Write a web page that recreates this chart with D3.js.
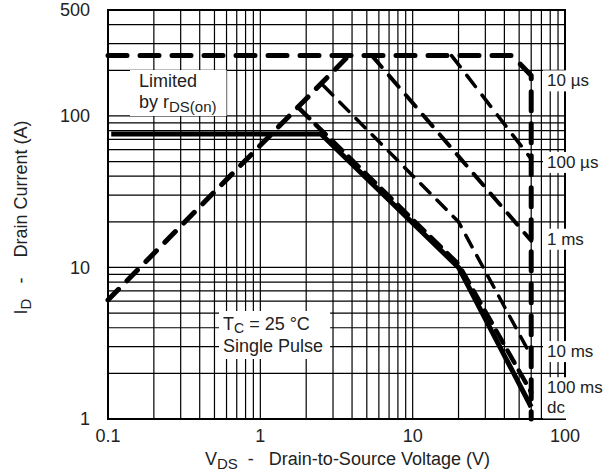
<!DOCTYPE html>
<html>
<head>
<meta charset="utf-8">
<script src="https://cdn.jsdelivr.net/npm/d3@7"></script>
<style>
  html, body { margin: 0; padding: 0; background: #fff; }
  svg { display: block; font-family: "Liberation Sans", Arial, Helvetica, sans-serif; }
  text { white-space: pre; fill: #222; }
</style>
</head>
<body>
<svg id="chart" width="614" height="472"></svg>
<script>
// Axis ticks
const xTickValues = [0.1, 1, 10, 100];
const xTickLabels = ["0.1", "1", "10", "100"];
const yTickValues = [1, 10, 100, 500];
const yTickLabels = ["1", "10", "100", "500"];

// Safe operating area boundaries as [V_DS (V), I_D (A)]
const pulseLimit  = [[0.1, 250], [45, 250], [60, 185], [60, 1]];      // 10 µs: I_DM ceiling, then V_DS max
const rdsOnLimit  = [[0.1, 6.1], [3.8, 250]];                          // limited by r_DS(on)
const curve100us  = [[18, 250], [60, 52]];
const curve1ms    = [[5.4, 250], [60, 15]];
const curve10ms   = [[2.6, 158], [20, 20], [60, 2.6]];
const curve100ms  = [[1.8, 112], [20, 10.5], [60, 1.5]];
const curveDC     = [[0.105, 76], [2.5, 76], [20, 10], [60, 1.2]];

const curveLabels = ["10 µs", "100 µs", "1 ms", "10 ms", "100 ms", "dc"];
const labelledCurves = [pulseLimit, curve100us, curve1ms, curve10ms, curve100ms, curveDC];

// ---- layout ----
const plot = { left: 108, right: 565, top: 10, bottom: 419 };
const labelNudge = [5, 3, -2, -5, -5, 0.5];

const svg = d3.select("#chart");

const x = d3.scaleLog().domain([0.1, 100]).range([plot.left, plot.right]);
const y = d3.scaleLog().domain([1, 500]).range([plot.bottom, plot.top]);

// ---- grid ----
const xGrid = [];
for (let dec = 0.1; dec < 100; dec *= 10) {
  for (let k = 2; k <= 9; k++) xGrid.push(+(dec * k).toPrecision(3));
  if (dec > 0.1) xGrid.push(+dec.toPrecision(3));
}
const yGrid = [];
for (let dec = 1; dec < 500; dec *= 10) {
  for (let k = 2; k <= 9; k++) {
    const v = dec * k;
    if (v < 500) yGrid.push(v);
  }
  if (dec > 1) yGrid.push(dec);
}

const grid = svg.append("g").attr("stroke", "#000").attr("stroke-width", 1.2);
grid.selectAll("line.v").data(xGrid).join("line")
  .attr("class", "v")
  .attr("x1", d => x(d)).attr("x2", d => x(d))
  .attr("y1", plot.top).attr("y2", plot.bottom);
grid.selectAll("line.h").data(yGrid).join("line")
  .attr("class", "h")
  .attr("x1", plot.left).attr("x2", plot.right)
  .attr("y1", d => y(d)).attr("y2", d => y(d));

svg.append("rect")
  .attr("x", plot.left).attr("y", plot.top)
  .attr("width", plot.right - plot.left).attr("height", plot.bottom - plot.top)
  .attr("fill", "none").attr("stroke", "#000").attr("stroke-width", 2);

// ---- tick labels ----
const tickFont = 18;
svg.append("g").selectAll("text").data(xTickValues).join("text")
  .attr("x", d => x(d)).attr("y", 442)
  .attr("text-anchor", "middle").attr("font-size", tickFont)
  .text((d, i) => xTickLabels[i]);
svg.append("g").selectAll("text").data(yTickValues).join("text")
  .attr("x", 90).attr("y", d => y(d))
  .attr("dy", "0.35em")
  .attr("text-anchor", "end").attr("font-size", tickFont)
  .text((d, i) => yTickLabels[i]);

// ---- axis titles ----
const xTitle = svg.append("text").attr("x", 205).attr("y", 465).attr("font-size", 18);
xTitle.append("tspan").text("V");
xTitle.append("tspan").attr("font-size", 15).attr("dy", 3.5).text("DS");
xTitle.append("tspan").attr("dy", -3.5).text("  -   Drain-to-Source Voltage (V)");

const yTitle = svg.append("text")
  .attr("transform", "translate(27," + ((plot.top + plot.bottom) / 2 + 3) + ") rotate(-90)")
  .attr("text-anchor", "middle").attr("font-size", 18);
yTitle.append("tspan").text("I");
yTitle.append("tspan").attr("font-size", 15).attr("dy", 4).text("D");
yTitle.append("tspan").attr("dy", -4).text("   -    Drain Current (A)");

// white backing box behind a text group
function backing(g, padL, padR, padT, padB, minRight) {
  const b = g.node().getBBox();
  const x0 = b.x - padL;
  let x1 = b.x + b.width + padR;
  if (minRight !== undefined) x1 = Math.max(x1, minRight);
  g.insert("rect", ":first-child")
    .attr("x", x0).attr("y", b.y - padT)
    .attr("width", x1 - x0).attr("height", b.height + padT + padB)
    .attr("fill", "#fff");
}

// ---- annotation boxes ----
const limitNote = svg.append("g").attr("font-size", 18);
limitNote.append("text").attr("x", 139).attr("y", 87).text("Limited");
const byR = limitNote.append("text").attr("x", 139).attr("y", 108);
byR.append("tspan").text("by r");
byR.append("tspan").attr("font-size", 15).attr("dy", 4).text("DS(on)");
backing(limitNote, 9, 10, 1, 1);

const condNote = svg.append("g").attr("font-size", 18);
const tc = condNote.append("text").attr("x", 223).attr("y", 330);
tc.append("tspan").text("T");
tc.append("tspan").attr("font-size", 14).attr("dy", 2.5).text("C");
tc.append("tspan").attr("dy", -2.5).text(" = 25 °C");
condNote.append("text").attr("x", 223).attr("y", 352).text("Single Pulse");
backing(condNote, 4, 7, 3, 3);

// ---- right-hand curve labels ----
labelledCurves.forEach((c, i) => {
  const end = c.find(p => p[0] === 60);
  const g = svg.append("g").attr("font-size", 17);
  g.append("text")
    .attr("x", 547).attr("y", y(end[1]) + labelNudge[i])
    .attr("dy", "0.35em")
    .text(curveLabels[i]);
  backing(g, 4, 3, 1, 1, plot.right + 3);
});

// ---- SOA curves ----
const line = d3.line().x(d => x(d[0])).y(d => y(d[1]));
const curves = svg.append("g")
  .attr("fill", "none").attr("stroke", "#000")
  .attr("stroke-linecap", "round").attr("stroke-linejoin", "round");

curves.append("path").datum(curveDC).attr("d", line)
  .attr("stroke-width", 5).attr("stroke-linecap", "butt");
curves.append("path").datum(curve100ms).attr("d", line)
  .attr("stroke-width", 4.5).attr("stroke-dasharray", "14,9");
curves.append("path").datum(curve10ms).attr("d", line)
  .attr("stroke-width", 3.5).attr("stroke-dasharray", "13,10");
curves.append("path").datum(curve1ms).attr("d", line)
  .attr("stroke-width", 4).attr("stroke-dasharray", "15,11");
curves.append("path").datum(curve100us).attr("d", line)
  .attr("stroke-width", 3.6).attr("stroke-dasharray", "14,11");
curves.append("path").datum(rdsOnLimit).attr("d", line)
  .attr("stroke-width", 5).attr("stroke-dasharray", "15,12");
curves.append("path").datum(pulseLimit).attr("d", line)
  .attr("stroke-width", 5).attr("stroke-dasharray", "19,13");
</script>
</body>
</html>
